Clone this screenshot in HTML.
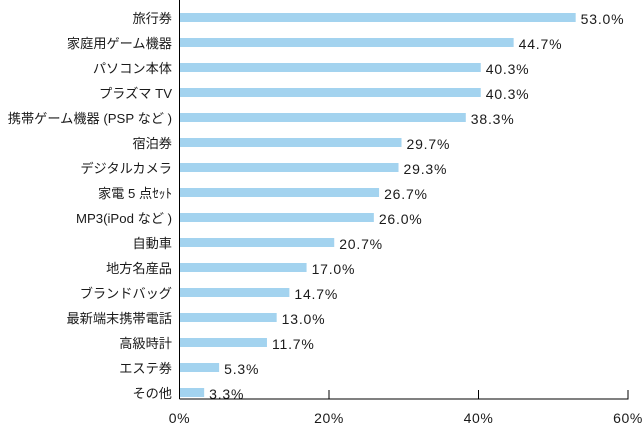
<!DOCTYPE html>
<html><head><meta charset="utf-8"><style>
body{margin:0;background:#fff;}
svg{display:block;font-family:"Liberation Sans","Noto Sans CJK JP",sans-serif;}
</style></head><body>
<svg id="c" width="644" height="426"></svg>
<script>
const categories=["旅行券","家庭用ゲーム機器","パソコン本体","プラズマ TV","携帯ゲーム機器 (PSP など )","宿泊券","デジタルカメラ","家電 5 点ｾｯﾄ","MP3(iPod など )","自動車","地方名産品","ブランドバッグ","最新端末携帯電話","高級時計","エステ券","その他"];
const values=[53.0,44.7,40.3,40.3,38.3,29.7,29.3,26.7,26.0,20.7,17.0,14.7,13.0,11.7,5.3,3.3];
const tickValues=[0,20,40,60];
const tickLabels=["0%","20%","40%","60%"];
const svg=document.getElementById('c');
const NS='http://www.w3.org/2000/svg';
const x0=179.5,x1=628,yBase=399;
const xs=v=>x0+(x1-x0)*v/60;
const ys=i=>13+i*25;
function mk(t,a){const e=document.createElementNS(NS,t);for(const k in a)e.setAttribute(k,a[k]);svg.appendChild(e);return e;}
categories.forEach((c,i)=>{
  const b=mk('rect',{x:x0,y:ys(i),width:xs(values[i])-x0,height:9,fill:'#a3d3ef'});
  
  
  const l=mk('text',{x:172,y:ys(i)+10,'text-anchor':'end','font-size':13.2,fill:'#1a1a1a'});
  l.textContent=c;
  
  
  const v=mk('text',{x:xs(values[i])+5,y:ys(i)+11,'font-size':14,'letter-spacing':0.8,fill:'#1a1a1a'});
  v.textContent=values[i].toFixed(1)+'%';
  
  
});
const ya=mk('line',{x1:x0,y1:0,x2:x0,y2:yBase,stroke:'#000','stroke-width':1});


const xa=mk('line',{x1:x0,y1:yBase,x2:x1+0.5,y2:yBase,stroke:'#000','stroke-width':1});


tickValues.forEach((t,i)=>{
  const tk=mk('line',{x1:xs(t),y1:yBase-9,x2:xs(t),y2:yBase,stroke:'#000','stroke-width':1});
  
  
  const tl=mk('text',{x:xs(t),y:423,'text-anchor':'middle','font-size':14,'letter-spacing':0.6,fill:'#1a1a1a'});
  tl.textContent=tickLabels[i];
  
  
});
</script>
</body></html>
